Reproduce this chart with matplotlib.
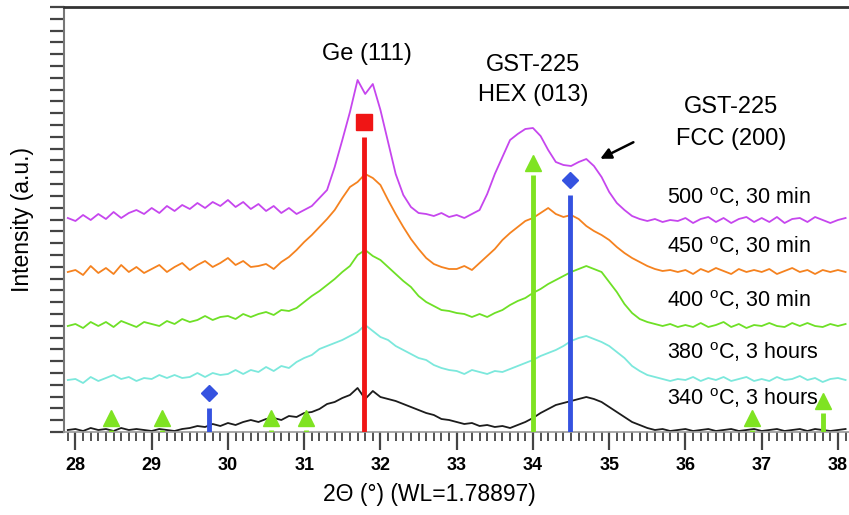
import numpy as np
import matplotlib
matplotlib.use("Agg")
from matplotlib import pyplot as plt

plt.rcParams['font.family'] = ['Liberation Sans', 'DejaVu Sans']
plt.rcParams['mathtext.fontset'] = 'custom'
plt.rcParams['mathtext.rm'] = 'Liberation Sans'

# 2theta scan, 0.1 deg step
two_theta = np.round(np.arange(27.9, 38.15, 0.1), 1)

# stacked intensities (a.u.), one row per degree
i_340 = [2,
         3, 1, 4, 2, 3, 1, 4, 2, 3, 2,
         1, 3, 2, 1, 3, 4, 6, 5, 8, 6,
         9, 7, 10, 12, 10, 13, 14, 12, 16, 15,
         19, 20, 23, 28, 30, 34, 37, 44, 33, 41,
         35, 33, 31, 28, 25, 22, 19, 17, 13, 12,
         10, 8, 9, 6, 7, 5, 6, 4, 7, 10,
         14, 19, 23, 27, 29, 31, 33, 35, 33, 30,
         25, 20, 15, 10, 7, 4, 2, 3, 1, 2,
         3, 1, 2, 3, 1, 2, 3, 1, 2, 3,
         1, 2, 3, 1, 2, 3, 1, 3, 2, 1,
         2, 3]
i_380 = [52,
         53, 49, 55, 51, 54, 57, 53, 55, 51, 54,
         53, 57, 54, 57, 54, 55, 59, 55, 59, 57,
         58, 62, 58, 62, 60, 65, 61, 66, 64, 70,
         74, 77, 83, 86, 89, 92, 96, 100, 107, 101,
         95, 92, 86, 82, 78, 74, 72, 67, 64, 62,
         61, 58, 62, 60, 58, 61, 60, 63, 66, 69,
         72, 76, 79, 82, 86, 91, 94, 96, 93, 90,
         86, 80, 74, 66, 61, 57, 55, 53, 51, 53,
         52, 55, 51, 54, 52, 55, 51, 53, 55, 51,
         53, 51, 55, 52, 53, 56, 52, 54, 50, 53,
         54, 52]
i_400 = [106,
         108, 104, 110, 106, 110, 105, 111, 108, 105, 110,
         108, 106, 111, 108, 113, 110, 112, 116, 112, 115,
         116, 113, 118, 115, 118, 120, 117, 122, 121, 124,
         130, 136, 141, 147, 153, 160, 166, 177, 182, 176,
         172, 165, 158, 151, 145, 136, 130, 126, 122, 121,
         119, 118, 115, 118, 115, 119, 122, 127, 131, 134,
         139, 143, 148, 152, 156, 160, 163, 166, 163, 160,
         150, 140, 128, 119, 113, 110, 108, 106, 108, 105,
         107, 105, 109, 105, 107, 110, 105, 108, 104, 107,
         106, 109, 106, 105, 109, 106, 109, 106, 105, 108,
         106, 108]
i_450 = [160,
         162, 157, 166, 159, 164, 158, 167, 160, 165, 159,
         163, 167, 160, 165, 169, 162, 167, 171, 165, 169,
         174, 167, 171, 165, 166, 168, 163, 170, 175, 182,
         190, 197, 205, 213, 222, 234, 245, 250, 258, 254,
         247, 232, 218, 205, 193, 183, 174, 168, 165, 163,
         163, 166, 162, 169, 176, 183, 192, 199, 205, 211,
         214, 219, 224, 218, 215, 217, 213, 206, 201, 197,
         192, 185, 179, 174, 170, 166, 163, 161, 162, 160,
         162, 158, 163, 160, 164, 161, 158, 163, 160, 162,
         160, 163, 158, 161, 164, 160, 162, 158, 162, 160,
         162, 160]
i_500 = [214,
         211, 217, 212, 218, 213, 220, 214, 219, 222, 218,
         224, 219, 226, 221, 227, 223, 229, 224, 230, 226,
         232, 225, 230, 223, 228, 221, 226, 219, 224, 218,
         222, 226, 234, 242, 265, 292, 320, 352, 338, 348,
         322, 290, 258, 237, 225, 219, 218, 216, 219, 215,
         217, 214, 218, 222, 238, 258, 275, 292, 298, 303,
         304, 296, 282, 270, 267, 266, 270, 273, 266, 255,
         240, 229, 222, 216, 213, 211, 213, 210, 212, 211,
         214, 209, 213, 215, 210, 214, 209, 213, 215, 210,
         214, 210, 215, 209, 213, 214, 210, 215, 212, 209,
         212, 214]

labels = ['340 $^{\\mathrm{o}}$C, 3 hours', '380 $^{\\mathrm{o}}$C, 3 hours',
          '400 $^{\\mathrm{o}}$C, 30 min', '450 $^{\\mathrm{o}}$C, 30 min',
          '500 $^{\\mathrm{o}}$C, 30 min']
label_y = [34, 80, 132, 186, 235]
colors = ['#1c1c1c', '#7ce8dc', '#6ee026', '#f5821f', '#c646ee']

# reference patterns: peak position and stick height
ge_pos, ge_h = [31.78], [295]
hex_pos = [28.47, 29.13, 30.57, 31.03, 34.0, 36.87, 37.8]
hex_h = [2, 2, 2, 2, 257, 2, 19]
fcc_pos, fcc_h = [29.75, 34.48], [24, 237]

fig = plt.figure(figsize=(8.49, 5.15), dpi=100)
ax = fig.add_axes([64/849, 83/515, 1 - 64/849, 425/515])

for y, c in zip([i_340, i_380, i_400, i_450, i_500], colors):
    ax.plot(two_theta, y, color=c, lw=1.3)


def sticks(pos, h, color, marker, ms, gap):
    ax.vlines(pos, 0, h, color=color, lw=3.5, zorder=3)
    ax.plot(pos, np.array(h) + gap, ls='none', marker=marker, ms=ms,
            color=color, zorder=4)


sticks(ge_pos, ge_h, '#f01515', 's', 11, 15)
sticks(hex_pos, hex_h, '#7fe322', '^', 12, 12)
sticks(fcc_pos, fcc_h, '#3552e0', 'D', 8.5, 15)

for txt, y in zip(labels, label_y):
    ax.text(35.76, y, txt, fontsize=15.5, va='center', ha='left')

ax.text(31.82, 378, 'Ge (111)', fontsize=17, ha='center', va='center')
ax.text(34.0, 352, 'GST-225\nHEX (013)', fontsize=17, ha='center',
        va='center', linespacing=1.45)
ax.text(36.6, 309, 'GST-225\nFCC (200)', fontsize=17, ha='center',
        va='center', linespacing=1.6)
ax.annotate('', xy=(34.85, 272), xytext=(35.35, 291),
            arrowprops=dict(arrowstyle='-|>', color='black', lw=1.8,
                            mutation_scale=16))

ax.set_xlim(27.85, 38.145)
ax.set_ylim(0, 425)
ax.set_xticks(np.arange(28, 39, 1))
ax.set_xticks(np.arange(27.9, 38.15, 0.1), minor=True)
ax.set_yticks(np.arange(0, 426, 425 / 36))
ax.set_yticklabels([])
ax.tick_params(axis='x', which='major', length=13, width=1.6, color='#444444',
               labelsize=13, pad=5)
ax.tick_params(axis='x', which='minor', length=6.5, width=1.3, color='#444444')
ax.tick_params(axis='y', length=10, width=1.6, color='#444444')
for t in ax.get_xticklabels():
    t.set_fontweight('bold')

ax.spines['right'].set_visible(False)
ax.spines['top'].set_color('#333333')
ax.spines['top'].set_linewidth(2)
ax.spines['left'].set_color('#777777')
ax.spines['left'].set_linewidth(1.5)
ax.spines['bottom'].set_color('#999999')
ax.spines['bottom'].set_linewidth(1.2)

ax.set_xlabel('2\u0398 (\u00b0) (WL=1.78897)', fontsize=16.5, labelpad=6)
ax.xaxis.set_label_coords(0.466, -0.12)
ax.set_ylabel('Intensity (a.u.)', fontsize=16.5, labelpad=8)

fig.savefig('out.png', dpi=100)
